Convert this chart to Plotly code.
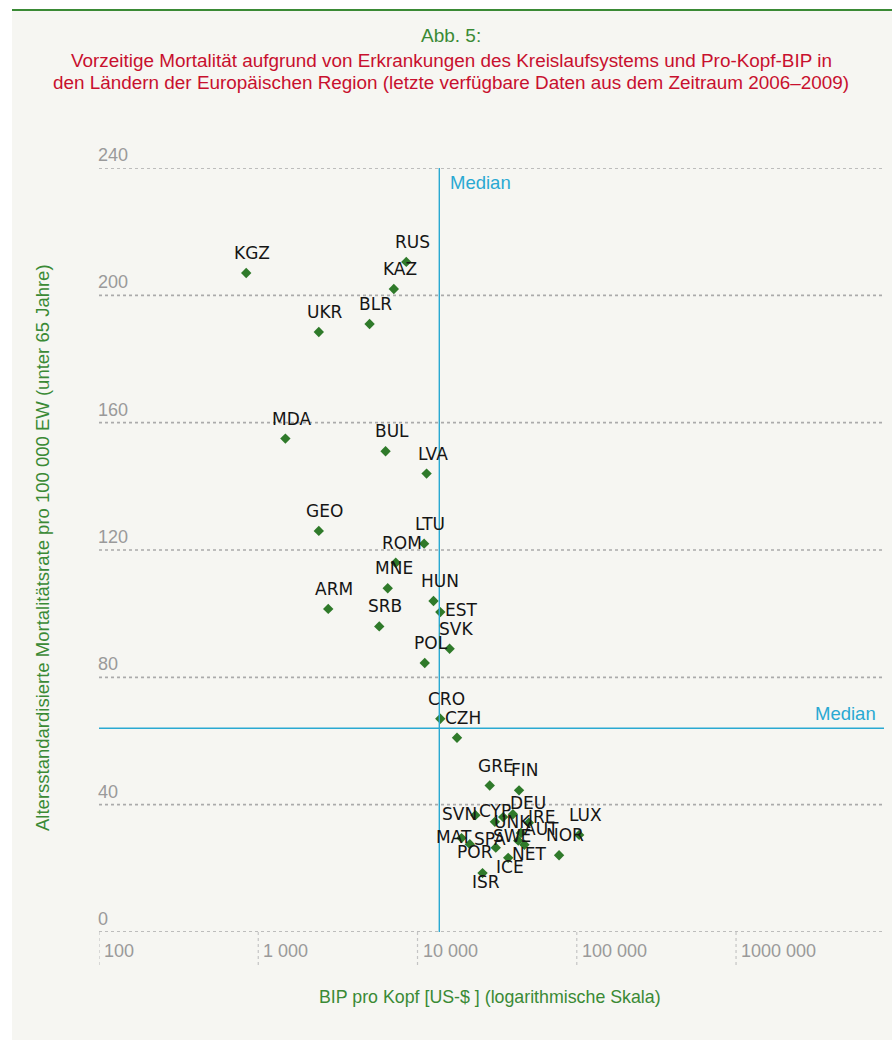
import numpy as np
import plotly.graph_objects as go

# ---------------- data ----------------
countries = ["KGZ", "RUS", "KAZ", "UKR", "BLR", "MDA", "BUL", "LVA", "GEO", "LTU",
             "ROM", "MNE", "ARM", "HUN", "SRB", "EST", "SVK", "POL", "CRO", "CZH",
             "GRE", "FIN", "SVN", "CYP", "DEU", "UNK", "IRE", "AUT", "SWE", "NET",
             "MAT", "POR", "SPA", "ICE", "ISR", "NOR", "LUX"]
gdp = [840, 8500, 7100, 2400, 5000, 1480, 6300, 11400, 2400, 11000,
       7300, 6500, 2750, 12600, 5750, 13900, 15900, 11100, 13900, 17700,
       28400, 43400, 23100, 30600, 34500, 39700, 50000, 44600, 42900, 46900,
       18900, 21300, 31000, 37100, 25600, 77400, 103500]
mortality = [207, 210.5, 202, 188.5, 191, 155, 151, 144, 126, 122,
             116, 108, 101.5, 104, 96, 100.5, 89, 84.5, 67, 61,
             46, 44.5, 36.7, 34.6, 36.1, 37, 34.3, 31.1, 28.7, 27.4,
             29.5, 27.6, 26.5, 23.3, 18.5, 24.1, 30.5]
median_gdp = 13700
median_mortality = 64

x_ticks = [100, 1000, 10000, 100000, 1000000]
x_tick_labels = ["100", "1 000", "10 000", "100 000", "1000 000"]
y_ticks = [0, 40, 80, 120, 160, 200, 240]

title_abb = "Abb. 5:"
title_line1 = "Vorzeitige Mortalität aufgrund von Erkrankungen des Kreislaufsystems und Pro-Kopf-BIP in"
title_line2 = "den Ländern der Europäischen Region (letzte verfügbare Daten aus dem Zeitraum 2006–2009)"
x_title = "BIP pro Kopf [US-$ ] (logarithmische Skala)"
y_title = "Altersstandardisierte Mortalitätsrate pro 100 000 EW (unter 65 Jahre)"

# ---------------- style ----------------
W, H = 892, 1047
ML, MR, MT, MB = 99, 8, 168, 115
PW = W - ML - MR
PH = H - MT - MB

GREEN = "#3a8a35"
RED = "#c8102e"
BLUE = "#2aa9d2"
GRAY = "#9a9a9a"
PANEL = "#f6f6f2"
MARK = "#2f7a2a"
NARROW = "Liberation Sans Narrow, Liberation Sans, Arial, sans-serif"
LABELF = "DejaVu Sans, Verdana, sans-serif"

default_off = (6, -20)
label_off = {
    "EST": (21, -2), "SVN": (-16, -1), "CYP": (0, -11), "DEU": (25, -14),
    "UNK": (0, 8), "IRE": (13, -6), "AUT": (21, -4), "SWE": (-6, -5),
    "MAT": (-8, -1), "SPA": (-6, -9), "POR": (5, 8), "NET": (5, 9),
    "ICE": (2, 9), "ISR": (3, 9),
}

def px_to_paper_x(px):
    return (px - ML) / PW

def py_to_paper_y(py):
    return (H - MB - py) / PH

x_max_log = 2 + (884 - 99.3) / 159.2

fig = go.Figure()
fig.add_trace(go.Scatter(
    x=gdp, y=mortality, mode="markers",
    marker=dict(symbol="diamond", size=8, color=MARK),
    hoverinfo="text", text=countries, cliponaxis=False, showlegend=False,
))

shapes = []
# background panel
shapes.append(dict(type="rect", xref="paper", yref="paper",
                   x0=px_to_paper_x(12), x1=px_to_paper_x(892),
                   y0=py_to_paper_y(1040), y1=py_to_paper_y(10),
                   fillcolor=PANEL, line=dict(width=0), layer="below"))
shapes.append(dict(type="line", xref="paper", yref="paper",
                   x0=px_to_paper_x(12), x1=px_to_paper_x(892),
                   y0=py_to_paper_y(10), y1=py_to_paper_y(10),
                   line=dict(color=GREEN, width=2)))
# horizontal dotted gridlines
for v in y_ticks:
    shapes.append(dict(type="line", xref="paper", yref="y", x0=0, x1=1, y0=v, y1=v,
                       line=dict(color="#ababab", width=1.6, dash="dot"), layer="below"))
# x dotted tick marks below the axis
for v in x_ticks:
    shapes.append(dict(type="line", xref="x", yref="paper", x0=v, x1=v,
                       y0=0, y1=py_to_paper_y(966),
                       line=dict(color="#c4c4c4", width=1.2, dash="dot"), layer="below"))
# median lines
shapes.append(dict(type="line", xref="x", yref="y", x0=median_gdp, x1=median_gdp,
                   y0=0, y1=240, line=dict(color=BLUE, width=1.4)))
shapes.append(dict(type="line", xref="paper", yref="y", x0=0, x1=1,
                   y0=median_mortality, y1=median_mortality,
                   line=dict(color=BLUE, width=1.4)))

ann = []
# point labels
for c, gx, my in zip(countries, gdp, mortality):
    dx, dy = label_off.get(c, default_off)
    ann.append(dict(x=np.log10(gx), y=my, xref="x", yref="y", text=c, showarrow=False,
                    xanchor="center", yanchor="middle", xshift=dx, yshift=-dy,
                    font=dict(family=LABELF, size=17, color="#151515")))
# y tick labels
for v in y_ticks:
    ann.append(dict(x=0, y=v, xref="paper", yref="y", text=str(v), showarrow=False,
                    xanchor="left", yanchor="bottom", xshift=-3, yshift=1,
                    font=dict(family=NARROW, size=18, color=GRAY)))
# x tick labels
for v, t in zip(x_ticks, x_tick_labels):
    ann.append(dict(x=np.log10(v), y=py_to_paper_y(951), xref="x", yref="paper", text=t,
                    showarrow=False, xanchor="left", yanchor="middle", xshift=3,
                    font=dict(family=NARROW, size=18, color=GRAY)))
# median labels
ann.append(dict(x=np.log10(median_gdp), y=240, xref="x", yref="y", text="Median",
                showarrow=False, xanchor="left", yanchor="top", xshift=9, yshift=-2,
                font=dict(family=NARROW, size=18.5, color=BLUE)))
ann.append(dict(x=1, y=median_mortality, xref="paper", yref="y", text="Median",
                showarrow=False, xanchor="right", yanchor="bottom", xshift=-6, yshift=2,
                font=dict(family=NARROW, size=18.5, color=BLUE)))
# axis titles
ann.append(dict(x=px_to_paper_x(490), y=py_to_paper_y(997), xref="paper", yref="paper",
                text=x_title, showarrow=False, xanchor="center", yanchor="middle",
                font=dict(family=NARROW, size=17.8, color=GREEN)))
ann.append(dict(x=px_to_paper_x(42), y=py_to_paper_y(548), xref="paper", yref="paper",
                text=y_title, showarrow=False, xanchor="center", yanchor="middle",
                textangle=-90, font=dict(family=NARROW, size=18.5, color=GREEN)))
# titles
ann.append(dict(x=px_to_paper_x(451), y=py_to_paper_y(35), xref="paper", yref="paper",
                text=title_abb, showarrow=False, xanchor="center", yanchor="middle",
                font=dict(family=NARROW, size=19, color=GREEN)))
ann.append(dict(x=px_to_paper_x(451), y=py_to_paper_y(60), xref="paper", yref="paper",
                text=title_line1, showarrow=False, xanchor="center", yanchor="middle",
                font=dict(family=NARROW, size=18.9, color=RED)))
ann.append(dict(x=px_to_paper_x(451), y=py_to_paper_y(83), xref="paper", yref="paper",
                text=title_line2, showarrow=False, xanchor="center", yanchor="middle",
                font=dict(family=NARROW, size=18.9, color=RED)))

fig.update_layout(
    width=W, height=H,
    margin=dict(l=ML, r=MR, t=MT, b=MB, pad=0),
    paper_bgcolor="white", plot_bgcolor="rgba(0,0,0,0)",
    xaxis=dict(type="log", range=[2, x_max_log], showgrid=False, zeroline=False,
               showticklabels=False, ticks="", showline=False),
    yaxis=dict(range=[0, 240], showgrid=False, zeroline=False,
               showticklabels=False, ticks="", showline=False),
    shapes=shapes, annotations=ann, showlegend=False,
)

fig.write_html("out.html")
